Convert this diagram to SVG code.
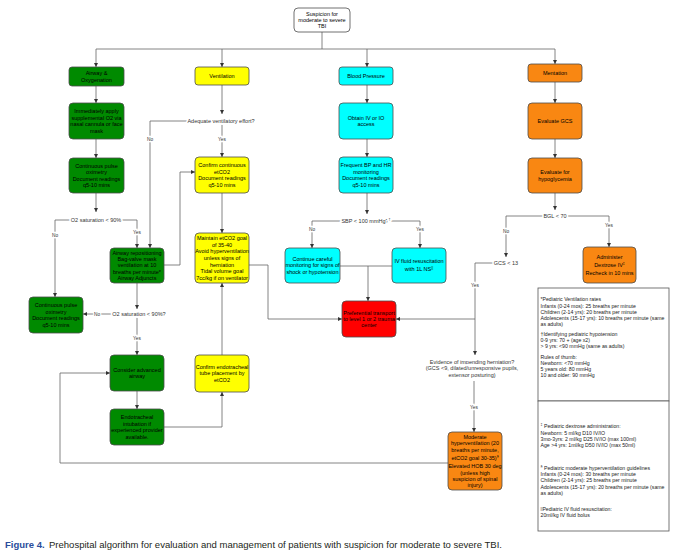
<svg xmlns="http://www.w3.org/2000/svg" width="676" height="555" viewBox="0 0 676 555">
<defs>
<marker id="ah" markerWidth="4" markerHeight="4" refX="4" refY="2" orient="auto" markerUnits="userSpaceOnUse"><path d="M0,0 L4,2 L0,4 Z" fill="#333"/></marker>
<style>
text{font-family:'Liberation Sans',Arial,sans-serif;}
.n rect{stroke:#4d4d4d;stroke-width:0.8}
.w rect{fill:#fff}
.g rect{fill:#008a00}
.y rect{fill:#ffff00}
.c rect{fill:#00ffff}
.r rect{fill:#ff0000}
.o rect{fill:#f98712}
.t{font-size:5.5px;fill:#000;text-anchor:middle}
.e{fill:none;stroke:#666;stroke-width:0.8}
.a{marker-end:url(#ah)}
.d{font-size:5.5px;fill:#333;text-anchor:middle;stroke:#fff;stroke-width:3.5;paint-order:stroke}
.l{font-size:4.8px;fill:#333;text-anchor:middle;stroke:#fff;stroke-width:2.5;paint-order:stroke}
.nt{font-size:5.2px;fill:#222}
.box{fill:#fff;stroke:#555;stroke-width:0.8}
.sup{font-size:3.6px}
</style>
</defs>
<rect width="676" height="555" fill="#fff"/>

<g id="connectors">
<path class="e" d="M322,32 V49"/>
<path class="e" d="M96,49 H555"/>
<path class="e a" d="M96,49 V67"/>
<path class="e a" d="M222,49 V67"/>
<path class="e a" d="M367,49 V67"/>
<path class="e a" d="M555,49 V64"/>
<path class="e a" d="M96,86 V103"/>
<path class="e a" d="M96,139 V158"/>
<path class="e a" d="M96,193 V212"/>
<path class="e a" d="M96,220 H55 V297"/>
<path class="e a" d="M96,220 H137 V248"/>
<path class="e a" d="M137,283 V309"/>
<path class="e a" d="M137,314 H83"/>
<path class="e a" d="M137,314 V355"/>
<path class="e a" d="M137,391 V409"/>
<path class="e a" d="M164,427 H222 V392"/>
<path class="e a" d="M222,355 V283"/>
<path class="e a" d="M222,85 V114"/>
<path class="e a" d="M222,121 H150 V248"/>
<path class="e a" d="M222,121 V157"/>
<path class="e a" d="M222,193 V233"/>
<path class="e a" d="M164,265 H180 V172 H195"/>
<path class="e a" d="M249,265 H268 V319 H342"/>
<path class="e a" d="M367,85 V103"/>
<path class="e a" d="M367,139 V157"/>
<path class="e a" d="M367,193 V214"/>
<path class="e a" d="M367,221 H312 V248"/>
<path class="e a" d="M367,221 H420 V248"/>
<path class="e" d="M340,266 H392"/>
<path class="e a" d="M368,266 V301"/>
<path class="e a" d="M555,82 V103"/>
<path class="e a" d="M555,139 V158"/>
<path class="e a" d="M555,193 V210"/>
<path class="e a" d="M555,216 H506 V257"/>
<path class="e a" d="M555,216 H609 V247"/>
<path class="e a" d="M506,263 H475 V355"/>
<path class="e a" d="M475,319 H396"/>
<path class="e a" d="M474,381 V432"/>
<path class="e a" d="M448,463 H60 V373 H110"/>
<text class="l" x="55" y="237">No</text>
<text class="l" x="137" y="234">Yes</text>
<text class="l" x="97" y="315.7">No</text>
<text class="l" x="137" y="340">Yes</text>
<text class="l" x="150" y="141">No</text>
<text class="l" x="222" y="141">Yes</text>
<text class="l" x="312" y="231">No</text>
<text class="l" x="420" y="231">Yes</text>
<text class="l" x="506" y="233">No</text>
<text class="l" x="609" y="227">Yes</text>
<text class="l" x="475" y="287">Yes</text>
<text class="l" x="474" y="409">Yes</text>
</g>

<g id="start" class="n w"><rect x="294" y="8" width="56" height="24" rx="4"/>
<text class="t"><tspan x="322" y="16">Suspicion for</tspan><tspan x="322" y="22">moderate to severe</tspan><tspan x="322" y="28">TBI</tspan></text></g>

<g id="airway" class="n g"><rect x="69" y="67" width="55" height="19" rx="3"/>
<text class="t"><tspan x="96.5" y="75.2">Airway &amp;</tspan><tspan x="96.5" y="81.6">Oxygenation</tspan></text></g>
<g id="apply-o2" class="n g"><rect x="69" y="103" width="55" height="36" rx="4"/>
<text class="t"><tspan x="96.5" y="113.3">Immediately apply</tspan><tspan x="96.5" y="119.7">supplemental O2 via</tspan><tspan x="96.5" y="126.1">nasal cannula or face</tspan><tspan x="96.5" y="132.5">mask</tspan></text></g>
<g id="pulse-ox-1" class="n g"><rect x="69" y="158" width="55" height="35" rx="4"/>
<text class="t"><tspan x="96.5" y="167.8">Continuous pulse</tspan><tspan x="96.5" y="174.2">oximetry</tspan><tspan x="96.5" y="180.6">Document readings</tspan><tspan x="96.5" y="187">q5-10 mins</tspan></text></g>
<g id="o2-sat-1"><text class="d" x="96" y="221.9">O2 saturation &lt; 90%</text></g>
<g id="reposition" class="n g"><rect x="110" y="248" width="54" height="35" rx="4"/>
<text class="t"><tspan x="137" y="254.6">Airway repositioning</tspan><tspan x="137" y="261">Bag-valve mask</tspan><tspan x="137" y="267.4">ventilation at 10</tspan><tspan x="137" y="273.8">breaths per minute*</tspan><tspan x="137" y="280.2">Airway Adjuncts</tspan></text></g>
<g id="o2-sat-2"><text class="d" x="139" y="315.9">O2 saturation &lt; 90%?</text></g>
<g id="pulse-ox-2" class="n g"><rect x="29" y="297" width="54" height="36" rx="4"/>
<text class="t"><tspan x="56" y="307.3">Continuous pulse</tspan><tspan x="56" y="313.7">oximetry</tspan><tspan x="56" y="320.1">Document readings</tspan><tspan x="56" y="326.5">q5-10 mins</tspan></text></g>
<g id="advanced-airway" class="n g"><rect x="110" y="355" width="54" height="36" rx="4"/>
<text class="t"><tspan x="137" y="371.7">Consider advanced</tspan><tspan x="137" y="378.1">airway</tspan></text></g>
<g id="intubation" class="n g"><rect x="110" y="409" width="54" height="36" rx="4"/>
<text class="t"><tspan x="137" y="419.3">Endotracheal</tspan><tspan x="137" y="425.7">intubation if</tspan><tspan x="137" y="432.1">experienced provider</tspan><tspan x="137" y="438.5">available.</tspan></text></g>

<g id="ventilation" class="n y"><rect x="195" y="67" width="54" height="18" rx="3"/>
<text class="t" x="222" y="77.9">Ventilation</text></g>
<g id="adequate"><text class="d" x="221" y="122.9">Adequate ventilatory effort?</text></g>
<g id="confirm-etco2" class="n y"><rect x="195" y="157" width="54" height="36" rx="4"/>
<text class="t"><tspan x="222" y="167.3">Confirm continuous</tspan><tspan x="222" y="173.7">etCO2</tspan><tspan x="222" y="180.1">Document readings</tspan><tspan x="222" y="186.5">q5-10 mins</tspan></text></g>
<g id="maintain-etco2" class="n y"><rect x="195" y="233" width="54" height="50" rx="4"/>
<text class="t"><tspan x="222" y="240.1">Maintain etCO2 goal</tspan><tspan x="222" y="246.7">of 35-40</tspan><tspan x="222" y="253.3">Avoid hyperventilation</tspan><tspan x="222" y="259.9">unless signs of</tspan><tspan x="222" y="266.5">herniation</tspan><tspan x="222" y="273.1">Tidal volume goal</tspan><tspan x="222" y="279.7">7cc/kg if on ventilator</tspan></text></g>
<g id="confirm-tube" class="n y"><rect x="195" y="355" width="54" height="37" rx="4"/>
<text class="t"><tspan x="222" y="369">Confirm endotracheal</tspan><tspan x="222" y="375.4">tube placement by</tspan><tspan x="222" y="381.8">etCO2</tspan></text></g>

<g id="blood-pressure" class="n c"><rect x="339" y="67" width="54" height="18" rx="3"/>
<text class="t" x="366" y="77.9">Blood Pressure</text></g>
<g id="iv-access" class="n c"><rect x="339" y="103" width="54" height="36" rx="4"/>
<text class="t"><tspan x="366" y="119.7">Obtain IV or IO</tspan><tspan x="366" y="126.1">access</tspan></text></g>
<g id="bp-monitor" class="n c"><rect x="339" y="157" width="54" height="36" rx="4"/>
<text class="t"><tspan x="366" y="167.3">Frequent BP and HR</tspan><tspan x="366" y="173.7">monitoring</tspan><tspan x="366" y="180.1">Document readings</tspan><tspan x="366" y="186.5">q5-10 mins</tspan></text></g>
<g id="sbp"><text class="d" x="366" y="222.9">SBP &lt; 100 mmHg?<tspan class="sup" dy="-2">†</tspan></text></g>
<g id="continue-monitor" class="n c"><rect x="285" y="248" width="55" height="35" rx="4"/>
<text class="t"><tspan x="312.5" y="261">Continue careful</tspan><tspan x="312.5" y="267.4">monitoring for signs of</tspan><tspan x="312.5" y="273.8">shock or hypotension</tspan></text></g>
<g id="iv-fluid" class="n c"><rect x="392" y="248" width="54" height="35" rx="4"/>
<text class="t"><tspan x="419" y="263.4">IV fluid resuscitation</tspan><tspan x="419" y="271.4">with 1L NS<tspan class="sup" dy="-2">||</tspan></tspan></text></g>
<g id="transport" class="n r"><rect x="342" y="301" width="54" height="36" rx="4"/>
<text class="t"><tspan x="369" y="314.5">Preferential transport</tspan><tspan x="369" y="320.9">to level 1 or 2 trauma</tspan><tspan x="369" y="327.3">center</tspan></text></g>

<g id="mentation" class="n o"><rect x="528" y="64" width="54" height="18" rx="3"/>
<text class="t" x="555" y="74.9">Mentation</text></g>
<g id="evaluate-gcs" class="n o"><rect x="528" y="103" width="54" height="36" rx="4"/>
<text class="t" x="555" y="122.9">Evaluate GCS</text></g>
<g id="hypoglycemia" class="n o"><rect x="528" y="158" width="54" height="35" rx="4"/>
<text class="t"><tspan x="555" y="174.2">Evaluate for</tspan><tspan x="555" y="180.6">hypoglycemia</tspan></text></g>
<g id="bgl"><text class="d" x="555" y="217.9">BGL &lt; 70</text></g>
<g id="dextrose" class="n o"><rect x="583" y="247" width="53" height="36" rx="4"/>
<text class="t"><tspan x="609.5" y="259.4">Administer</tspan><tspan x="609.5" y="267.4">Dextrose IV<tspan class="sup" dy="-2">‡</tspan></tspan><tspan x="609.5" y="274.9">Recheck in 10 mins</tspan></text></g>
<g id="gcs"><text class="d" x="506" y="264.9">GCS &lt; 13</text></g>
<g id="herniation"><text class="d"><tspan x="472" y="363.9">Evidence of impending herniation?</tspan><tspan x="472" y="370.4">(GCS &lt;9, dilated/unresponsive pupils,</tspan><tspan x="472" y="376.9">extensor posturing)</tspan></text></g>
<g id="hyperventilation" class="n o"><rect x="448" y="432" width="54" height="58" rx="4"/>
<text class="t"><tspan x="475" y="438.9">Moderate</tspan><tspan x="475" y="445.4">hyperventilation (20</tspan><tspan x="475" y="451.9">breaths per minute,</tspan><tspan x="475" y="459.9">etCO2 goal 30-35)<tspan class="sup" dy="-2">§</tspan></tspan><tspan x="475" y="467.9">Elevated HOB 30 deg</tspan><tspan x="475" y="474.9">(unless high</tspan><tspan x="475" y="480.9">suspicion of spinal</tspan><tspan x="475" y="487.4">injury)</tspan></text></g>

<g id="notes-1"><rect class="box" x="538" y="288" width="131" height="113"/>
<text class="nt"><tspan x="540.5" y="301.3">*Pediatric Ventilation rates</tspan><tspan x="540.5" y="307.5">Infants (0-24 mos): 25 breaths per minute</tspan><tspan x="540.5" y="313.7">Children (2-14 yrs): 20 breaths per minute</tspan><tspan x="540.5" y="319.9">Adolescents (15-17 yrs): 10 breaths per minute (same</tspan><tspan x="540.5" y="326.1">as adults)</tspan><tspan x="540.5" y="335.8">†Identifying pediatric hypotension</tspan><tspan x="540.5" y="342">0-9 yrs: 70 + (age x2)</tspan><tspan x="540.5" y="348.2">&gt; 9 yrs: &lt;90 mmHg (same as adults)</tspan><tspan x="540.5" y="358.8">Rules of thumb:</tspan><tspan x="540.5" y="365">Newborn: &lt;70 mmHg</tspan><tspan x="540.5" y="371.2">5 years old: 80 mmHg</tspan><tspan x="540.5" y="377.4">10 and older: 90 mmHg</tspan></text></g>
<g id="notes-2"><rect class="box" x="538" y="401" width="131" height="130"/>
<text class="nt"><tspan x="540.5" y="427.8"><tspan class="sup" dy="-1.5">‡</tspan><tspan dy="1.5"> Pediatric dextrose administration:</tspan></tspan><tspan x="540.5" y="434.5">Newborn: 5 ml/kg D10 IV/IO</tspan><tspan x="540.5" y="440.8">3mo-3yrs: 2 ml/kg D25 IV/IO (max 100ml)</tspan><tspan x="540.5" y="447.1">Age &gt;4 yrs: 1ml/kg D50 IV/IO (max 50ml)</tspan><tspan x="540.5" y="469.5"><tspan class="sup" dy="-1.5">§</tspan><tspan dy="1.5"> Pediatric moderate hyperventilation guidelines</tspan></tspan><tspan x="540.5" y="476.1">Infants (0-24 mos): 30 breaths per minute</tspan><tspan x="540.5" y="482.1">Children (2-14 yrs): 25 breaths per minute</tspan><tspan x="540.5" y="488.5">Adolescents (15-17 yrs): 20 breaths per minute (same</tspan><tspan x="540.5" y="495.1">as adults)</tspan><tspan x="540.5" y="511.1"><tspan class="sup" dy="-1.5">||</tspan><tspan dy="1.5">Pediatric IV fluid resuscitation:</tspan></tspan><tspan x="540.5" y="517.1">20ml/kg IV fluid bolus</tspan></text></g>

<g id="caption">
<text x="5" y="547.5" font-size="9.5" font-weight="bold" fill="#2a4d9b">Figure 4.</text>
<text x="49" y="547.5" font-size="9.5" fill="#231f20" textLength="453" lengthAdjust="spacingAndGlyphs">Prehospital algorithm for evaluation and management of patients with suspicion for moderate to severe TBI.</text>
</g>
</svg>
